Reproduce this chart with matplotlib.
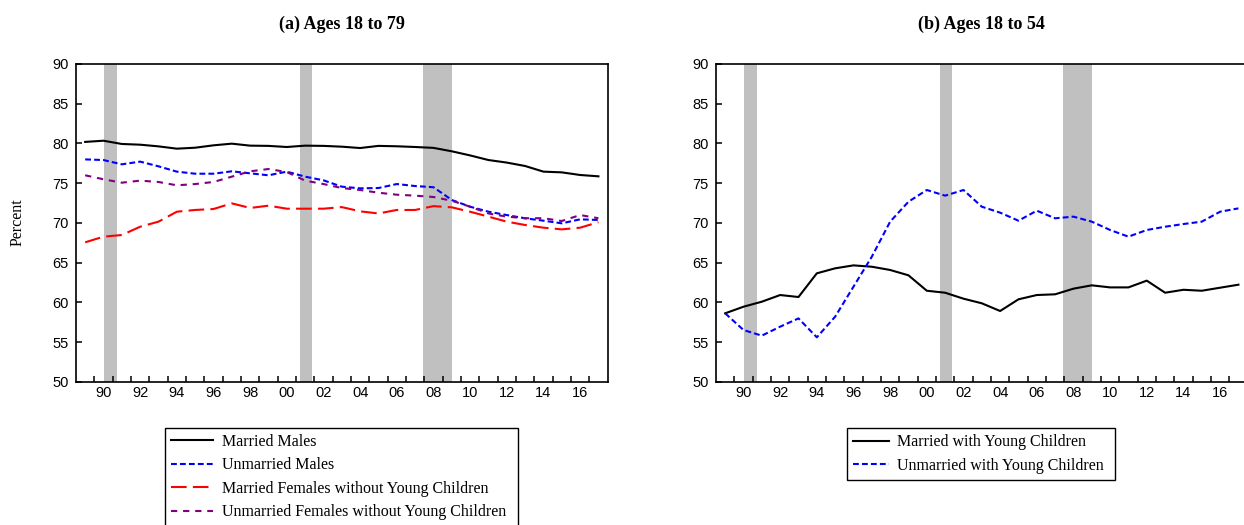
import numpy as np
import matplotlib
matplotlib.use('Agg')
import matplotlib.pyplot as plt
from matplotlib.ticker import FixedLocator, NullFormatter

# annual data, plotted at mid-year
years = list(range(1989, 2018))

# (a) ages 18 to 79
married_males = [80.2, 80.35, 79.94, 79.85, 79.64, 79.35, 79.47, 79.77, 79.98, 79.73,
                 79.7, 79.56, 79.73, 79.7, 79.6, 79.43, 79.7, 79.65, 79.56, 79.45,
                 79.02, 78.5, 77.92, 77.6, 77.17, 76.46, 76.37, 76.04, 75.87]
unmarried_males = [78.0, 77.92, 77.38, 77.72, 77.13, 76.46, 76.2, 76.2, 76.5, 76.25,
                   76.0, 76.46, 75.83, 75.37, 74.57, 74.36, 74.4, 74.9, 74.65, 74.5,
                   72.9, 72.05, 71.42, 71.0, 70.59, 70.29, 69.96, 70.46, 70.38]
married_fem_no_kids = [67.57, 68.28, 68.49, 69.53, 70.17, 71.42, 71.64, 71.76, 72.47, 71.89,
                       72.18, 71.8, 71.8, 71.8, 72.0, 71.47, 71.2, 71.64, 71.64, 72.12,
                       71.97, 71.42, 70.8, 70.17, 69.75, 69.41, 69.2, 69.41, 70.1]
unmarried_fem_no_kids = [76.0, 75.5, 75.07, 75.33, 75.16, 74.74, 74.9, 75.16, 75.83, 76.5,
                         76.79, 76.41, 75.33, 74.9, 74.4, 74.15, 73.81, 73.56, 73.44, 73.27,
                         72.8, 72.05, 71.2, 70.8, 70.6, 70.6, 70.25, 71.0, 70.6]

# (b) ages 18 to 54
married_young_kids = [58.64, 59.47, 60.1, 60.94, 60.69, 63.67, 64.3, 64.67, 64.5, 64.09,
                      63.42, 61.48, 61.23, 60.48, 59.9, 58.93, 60.4, 60.94, 61.03, 61.74,
                      62.16, 61.9, 61.9, 62.75, 61.23, 61.6, 61.48, 61.86, 62.24]
unmarried_young_kids = [58.64, 56.54, 55.83, 56.96, 58.0, 55.62, 58.22, 61.99, 65.76, 70.17,
                        72.68, 74.15, 73.44, 74.15, 72.05, 71.3, 70.29, 71.55, 70.59, 70.8,
                        70.17, 69.12, 68.28, 69.12, 69.53, 69.87, 70.17, 71.42, 71.84]

# NBER recessions (start, end) in fractional years
recessions = [(1990.55, 1991.25), (2001.2, 2001.9), (2007.95, 2009.5)]

serif = ['Liberation Serif', 'DejaVu Serif']
sans = ['Liberation Sans', 'DejaVu Sans']

lw = 1.5
styles_a = [
    ('Married Males', married_males, dict(color='black', ls='-')),
    ('Unmarried Males', unmarried_males, dict(color='blue', ls=(0, (2.8, 1.5)))),
    ('Married Females without Young Children', married_fem_no_kids, dict(color='red', ls=(0, (7.5, 3)))),
    ('Unmarried Females without Young Children', unmarried_fem_no_kids, dict(color='purple', ls=(0, (3, 2.8)))),
]
styles_b = [
    ('Married with Young Children', married_young_kids, dict(color='black', ls='-')),
    ('Unmarried with Young Children', unmarried_young_kids, dict(color='blue', ls=(0, (2.8, 1.5)))),
]


def setup_axes(ax):

    '''
    EViews-like frame: inward ticks at year boundaries,
    two-digit labels centred on every other year
    '''

    for start, end in recessions:
        ax.axvspan(start, end, color='#c0c0c0', lw=0, zorder=0)

    ax.set_xlim(years[0], years[-1] + 1)
    ax.set_ylim(50, 90)
    ax.set_yticks(range(50, 91, 5))

    ax.xaxis.set_major_locator(FixedLocator(years[1:]))
    ax.xaxis.set_major_formatter(NullFormatter())
    lab_years = [y for y in years if y % 2 == 0]
    ax.xaxis.set_minor_locator(FixedLocator([y + 0.5 for y in lab_years]))
    ax.set_xticklabels(['%02d' % (y % 100) for y in lab_years], minor=True)

    ax.tick_params(axis='x', which='major', direction='in', length=4.5, width=1.1, top=False)
    ax.tick_params(axis='x', which='minor', length=0, pad=3, labelsize=10.5)
    ax.tick_params(axis='y', direction='in', length=4.5, width=1.1, pad=5.5, labelsize=10.5, right=False)
    for lab in ax.get_xticklabels(minor=True) + ax.get_yticklabels():
        lab.set_family(sans)

    for sp in ax.spines.values():
        sp.set_linewidth(1.2)


fig = plt.figure(figsize=(12.44, 5.25), dpi=100)
W, H = 1244.0, 525.0

ax1 = fig.add_axes([76 / W, 1 - 382 / H, 531.6 / W, 318 / H])
ax2 = fig.add_axes([716 / W, 1 - 382 / H, 531.6 / W, 318 / H])

xs = [y + 0.5 for y in years]

for ax, styles, title in [(ax1, styles_a, '(a) Ages 18 to 79'),
                          (ax2, styles_b, '(b) Ages 18 to 54')]:
    setup_axes(ax)
    for label, vals, kw in styles:
        ax.plot(xs, vals, lw=lw, label=label, zorder=2, **kw)
    ax.set_title(title, family=serif, fontweight='bold', fontsize=13, pad=25)

fig.text(18 / W, 1 - 222 / H, 'Percent', rotation=90, ha='center', va='center',
         family=serif, fontsize=11.5)

# legends below each panel
leg_kw = dict(loc='upper left', mode='expand', borderaxespad=0, borderpad=0.4,
              labelspacing=0.47, handletextpad=0.55, fancybox=False, framealpha=1,
              edgecolor='black', prop={'family': serif, 'size': 11.5})

leg1 = fig.legend(*ax1.get_legend_handles_labels(),
                  bbox_to_anchor=(165 / W, 1 - 427.5 / H - 0.01, 353 / W, 0.01),
                  handlelength=2.6, **leg_kw)
leg2 = fig.legend(*ax2.get_legend_handles_labels(),
                  bbox_to_anchor=(847 / W, 1 - 428 / H - 0.01, 268 / W, 0.01),
                  handlelength=2.2, **leg_kw)
for leg in (leg1, leg2):
    leg.get_frame().set_linewidth(1.0)

fig.savefig('out.png', dpi=100)
